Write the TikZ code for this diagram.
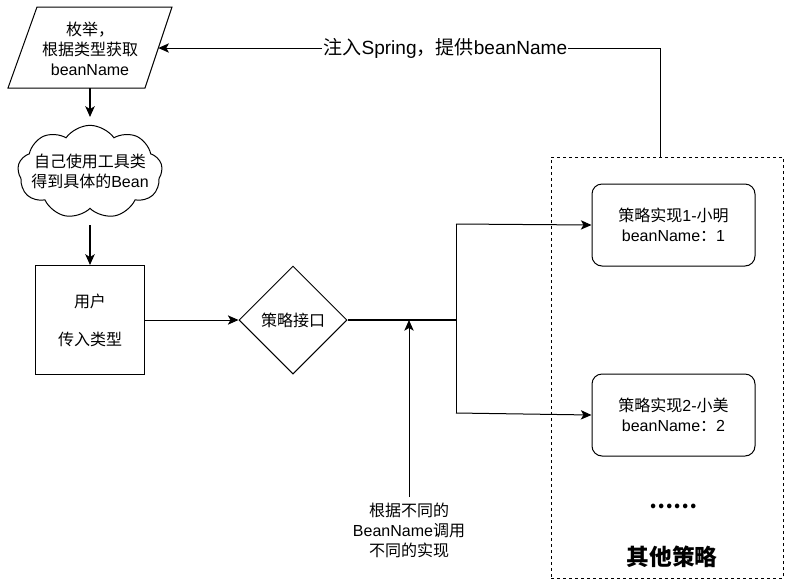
\documentclass[tikz,border=0pt]{standalone}
\usepackage{fontspec}
\setmainfont{Liberation Sans}
\newfontfamily\cjk{Noto Sans CJK SC}
\usetikzlibrary{arrows.meta,shapes.geometric,shapes.symbols}
\begin{document}
\begin{tikzpicture}[x=0.75pt,y=-0.75pt,
  every node/.style={font=\fontsize{12}{15}\selectfont, align=center, inner sep=0pt},
  line/.style={draw=black, line width=0.75pt},
  arr/.style={line, -{Stealth[length=8pt,width=7pt,inset=2pt]}},
  boxs/.style={draw, line width=0.75pt, minimum width=81.75pt, minimum height=81.75pt},
  rbox/.style={draw, line width=0.75pt, rounded corners=7.5pt, minimum width=122.25pt, minimum height=61.5pt}
]
\useasboundingbox (0,0) rectangle (790,587);
% parallelogram
\draw[line width=0.75pt] (37,7) -- (172,7) -- (145,88) -- (8,88) -- cycle;
\node (enum) at (90,49) {{\cjk 枚举，}\\{\cjk 根据类型获取}\\beanName};
\coordinate (paraR) at (158.3,48);
\coordinate (paraB) at (90,88);
% cloud
\node[cloud, draw, line width=0.75pt, cloud puffs=9, cloud puff arc=110, cloud ignores aspect, minimum width=108.5pt, minimum height=70pt] (cloud) at (90,172) {};
\node (cloudtext) at (90,171) {{\cjk 自己使用工具类}\\{\cjk 得到具体的}Bean};
\coordinate (cloudT) at (90,117);
\coordinate (cloudB) at (90,225);
% user box
\node[boxs] (user) at (90,320) {{\cjk 用户}\\[13.5pt]{\cjk 传入类型}};
% diamond
\node[diamond, draw, line width=0.75pt, minimum width=81pt, minimum height=81pt] (iface) at (293,320) {\cjk 策略接口};
\coordinate (split) at (456,320);
\coordinate (splitT) at (456,224);
\coordinate (splitB) at (456,413);
\coordinate (callpt) at (409,320);
% container
\node[draw, dashed, dash pattern=on 2.25pt off 2.25pt, line width=0.75pt, minimum width=174pt, minimum height=315.75pt] (other) at (667,367.5) {};
\coordinate (otherT) at (660,157);
\coordinate (corner) at (660,48);
% impl boxes
\node[rbox] (impl1) at (673.5,225) {{\cjk 策略实现}1-{\cjk 小明}\\beanName{\cjk ：}1};
\node[rbox] (impl2) at (673.5,415) {{\cjk 策略实现}2-{\cjk 小美}\\beanName{\cjk ：}2};
\node (dots) at (673,506) {\fontsize{16}{18}\selectfont\bfseries\cjk ……};
\node (othertitle) at (672,557) {\fontsize{17}{20}\selectfont\bfseries\cjk 其他策略};
% call label
\node (calllabel) at (409,530) {{\cjk 根据不同的}\\BeanName{\cjk 调用}\\{\cjk 不同的实现}};
\coordinate (callstart) at (409,497);
% connectors
\draw[arr, line width=1.5pt] (paraB) -- (cloudT);
\draw[arr, line width=1.5pt] (cloudB) -- (user.north);
\draw[arr] (user.east) -- (iface.west);
\draw[line, line width=1.5pt] (iface.east) -- (split);
\draw[line] (splitT) -- (splitB);
\draw[arr] (splitT) -- (impl1.west);
\draw[arr] (splitB) -- (impl2.west);
\draw[arr] (callstart) -- (callpt);
\draw[arr] (otherT) -- (corner) -- node[pos=0.428, fill=white, inner xsep=1pt, font=\fontsize{14.3}{16}\selectfont] (inject) {{\cjk 注入}Spring{\cjk ，提供}beanName} (paraR);
\end{tikzpicture}
\end{document}
